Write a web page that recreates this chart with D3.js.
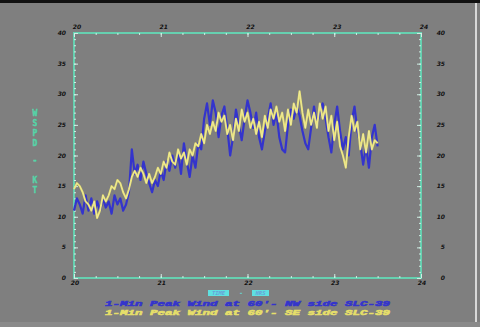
<!DOCTYPE html>
<html><head><meta charset="utf-8">
<script src="https://cdn.jsdelivr.net/npm/d3@7"></script>
<style>html,body{margin:0;padding:0;background:#7f7f7f;overflow:hidden}</style>
</head><body>
<svg id="c" width="480" height="327"></svg>
<script>
// Data: 2-minute samples starting at 20.0 hours
const startHour = 20;
const stepHours = 2 / 60;
const nwSide = [11,13,12,10.5,13.5,11,13,10.5,12.5,11,13,11.5,12.5,10.5,13.5,12,13,11,12,14,
  21,17,18.5,16,19,17,15.5,14,16,15,17.5,16,19,17.5,20,18,20.5,17,22,19,
  16.5,20,18,22,21,26,28.5,25,29,27,23,26.5,28,24.5,20,23,27.5,25,22.5,26,
  29,27,24.5,27,23,21,24,26,28.5,25,27,23,21,20.5,25,27.5,26,28,26.5,24,
  22,21,24.5,28,25,27,28.5,26,23,20.5,25,28,24,21,23,20,25.5,28,24,22,
  18.5,21.5,18,23,25,21.5];
const seSide = [14.5,15.5,15,14,12.5,12,11,12.5,9.8,11,13.5,12.5,13.5,15,14.5,16,15.5,14,13,14.5,
  16.5,17.5,16.5,18,17,15.5,17,15.5,16.5,18,17,19,18,20.5,19,18.5,21,19.5,20.5,18.5,
  21,20,22,21.5,23.5,22,25,23.5,25.5,24,27,25.5,26.5,23.5,25,22.5,26,24,27.5,25.5,
  27,24.5,26,23.5,25.5,23,26.5,24.5,27.5,26,28,25.5,27,24,27.5,25,28.5,27,30.5,27,
  24.5,27.5,25,27,24.5,28.5,26,28,24,26.5,22.5,25.5,21.5,20,18,23,26.5,24,25.5,21,
  23.5,20.5,24,21,22.5,22];
const xTicks = [20,21,22,23,24];
const yTicks = [0,5,10,15,20,25,30,35,40];
const legendLabels = ["1-Min Peak Wind at 60'- NW side SLC-39","1-Min Peak Wind at 60'- SE side SLC-39"];
const seriesColors = ["#3434cc","#e6df6a"];

const svg = d3.select("#c");
// screen border artifacts
svg.append("rect").attr("x",0).attr("y",0).attr("width",480).attr("height",327).attr("fill","#7f7f7f");
svg.append("rect").attr("x",0).attr("y",0).attr("width",480).attr("height",3).attr("fill","#111");
svg.append("rect").attr("x",475).attr("y",3).attr("width",2).attr("height",320).attr("fill","#d8d8d8");
svg.append("rect").attr("x",0).attr("y",322).attr("width",480).attr("height",5).attr("fill","#8a8a8a");

const L=74, R=421, T=33, B=278;
const x = d3.scaleLinear().domain([20,24]).range([L,R]);
const y = d3.scaleLinear().domain([0,40]).range([B,T]);
const frameColor = "#66d0b0";

// frame
svg.append("rect").attr("x",L).attr("y",T).attr("width",R-L).attr("height",B-T)
  .attr("fill","none").attr("stroke",frameColor).attr("stroke-width",2);

const tickColor="#cfeee4";
function styleAxis(g){
  g.select(".domain").remove();
  g.selectAll("line").attr("stroke",tickColor).attr("stroke-width",1);
  g.selectAll("text").remove();
}
const xMinor = d3.range(20,24.001,0.25);
const yMinor = d3.range(0,40.001,1);
svg.append("g").attr("transform",`translate(0,${B})`).call(d3.axisTop(x).tickValues(xMinor).tickSize(2)).call(styleAxis);
svg.append("g").attr("transform",`translate(0,${T})`).call(d3.axisBottom(x).tickValues(xMinor).tickSize(2)).call(styleAxis);
svg.append("g").attr("transform",`translate(${L},0)`).call(d3.axisRight(y).tickValues(yMinor).tickSize(2)).call(styleAxis);
svg.append("g").attr("transform",`translate(${R},0)`).call(d3.axisLeft(y).tickValues(yMinor).tickSize(2)).call(styleAxis);
svg.append("g").attr("transform",`translate(0,${B})`).call(d3.axisTop(x).tickValues(xTicks).tickSize(4)).call(styleAxis);
svg.append("g").attr("transform",`translate(0,${T})`).call(d3.axisBottom(x).tickValues(xTicks).tickSize(4)).call(styleAxis);
svg.append("g").attr("transform",`translate(${L},0)`).call(d3.axisRight(y).tickValues(yTicks).tickSize(4)).call(styleAxis);
svg.append("g").attr("transform",`translate(${R},0)`).call(d3.axisLeft(y).tickValues(yTicks).tickSize(4)).call(styleAxis);

// tick labels
const lblFont = "bold italic 6px 'DejaVu Sans', sans-serif";
function lab(g){ g.attr("fill","#111").style("font", lblFont); }
svg.append("g").selectAll("text").data(xTicks).join("text")
  .attr("x",d=>x(d)+3).attr("y",29).attr("text-anchor","middle").text(d=>d).call(lab);
svg.append("g").selectAll("text").data(xTicks).join("text")
  .attr("x",d=>x(d)+1).attr("y",285).attr("text-anchor","middle").text(d=>d).call(lab);
svg.append("g").selectAll("text").data(yTicks).join("text")
  .attr("x",66).attr("y",d=>y(d)+2).attr("text-anchor","end").text(d=>d).call(lab);
svg.append("g").selectAll("text").data(yTicks).join("text")
  .attr("x",445).attr("y",d=>y(d)+2).attr("text-anchor","end").text(d=>d).call(lab);

// series
const line = d3.line().x((d,i)=>x(startHour+i*stepHours)).y(d=>y(d)).curve(d3.curveLinear);
svg.append("path").datum(nwSide).attr("d",line).attr("fill","none").attr("stroke",seriesColors[0]).attr("stroke-width",2.2).attr("stroke-linejoin","round");
svg.append("path").datum(seSide).attr("d",line).attr("fill","none").attr("stroke",seriesColors[1]).attr("stroke-width",2).attr("stroke-linejoin","round");
svg.append("path").datum(seSide).attr("d",line).attr("fill","none").attr("stroke","#f6f4d8").attr("stroke-width",0.6).attr("opacity",0.7);

// y title (stacked letters)
const yTitle = ["W","S","P","D","-","K","T"];
const yTitleY = [113,123,133,143,160,180,190];
svg.append("g").selectAll("text").data(yTitle).join("text")
  .attr("x",35).attr("y",(d,i)=>yTitleY[i]+3).attr("text-anchor","middle")
  .attr("fill","#55d4a8").attr("stroke","#55d4a8").attr("stroke-width",0.4)
  .style("font","bold 8px 'DejaVu Sans Mono', monospace").text(d=>d);

// x title
const xt = svg.append("g");
xt.append("rect").attr("x",208).attr("y",290).attr("width",21).attr("height",6).attr("fill","#5fe0e0");
xt.append("rect").attr("x",252).attr("y",290).attr("width",17).attr("height",6).attr("fill","#5fe0e0");
xt.append("text").attr("x",218.5).attr("y",295.2).attr("text-anchor","middle").attr("fill","#6aa0d8").style("font","bold italic 5.5px 'DejaVu Sans Mono', monospace").text("TIME");
xt.append("text").attr("x",241).attr("y",295).attr("text-anchor","middle").attr("fill","#5fe0e0").style("font","bold 6px 'DejaVu Sans Mono', monospace").text("-");
xt.append("text").attr("x",260.5).attr("y",295.2).attr("text-anchor","middle").attr("fill","#6aa0d8").style("font","bold italic 5.5px 'DejaVu Sans Mono', monospace").text("HRS");

// legend
svg.append("g").selectAll("text").data(legendLabels).join("text")
  .attr("x",105).attr("y",(d,i)=>305.5+i*9.5)
  .attr("textLength",285).attr("lengthAdjust","spacingAndGlyphs")
  .attr("fill",(d,i)=>seriesColors[i])
  .attr("stroke",(d,i)=>seriesColors[i]).attr("stroke-width",0.6)
  .style("font","bold italic 8px 'Liberation Mono', 'Courier New', monospace")
  .text(d=>d);
</script>
</body></html>
